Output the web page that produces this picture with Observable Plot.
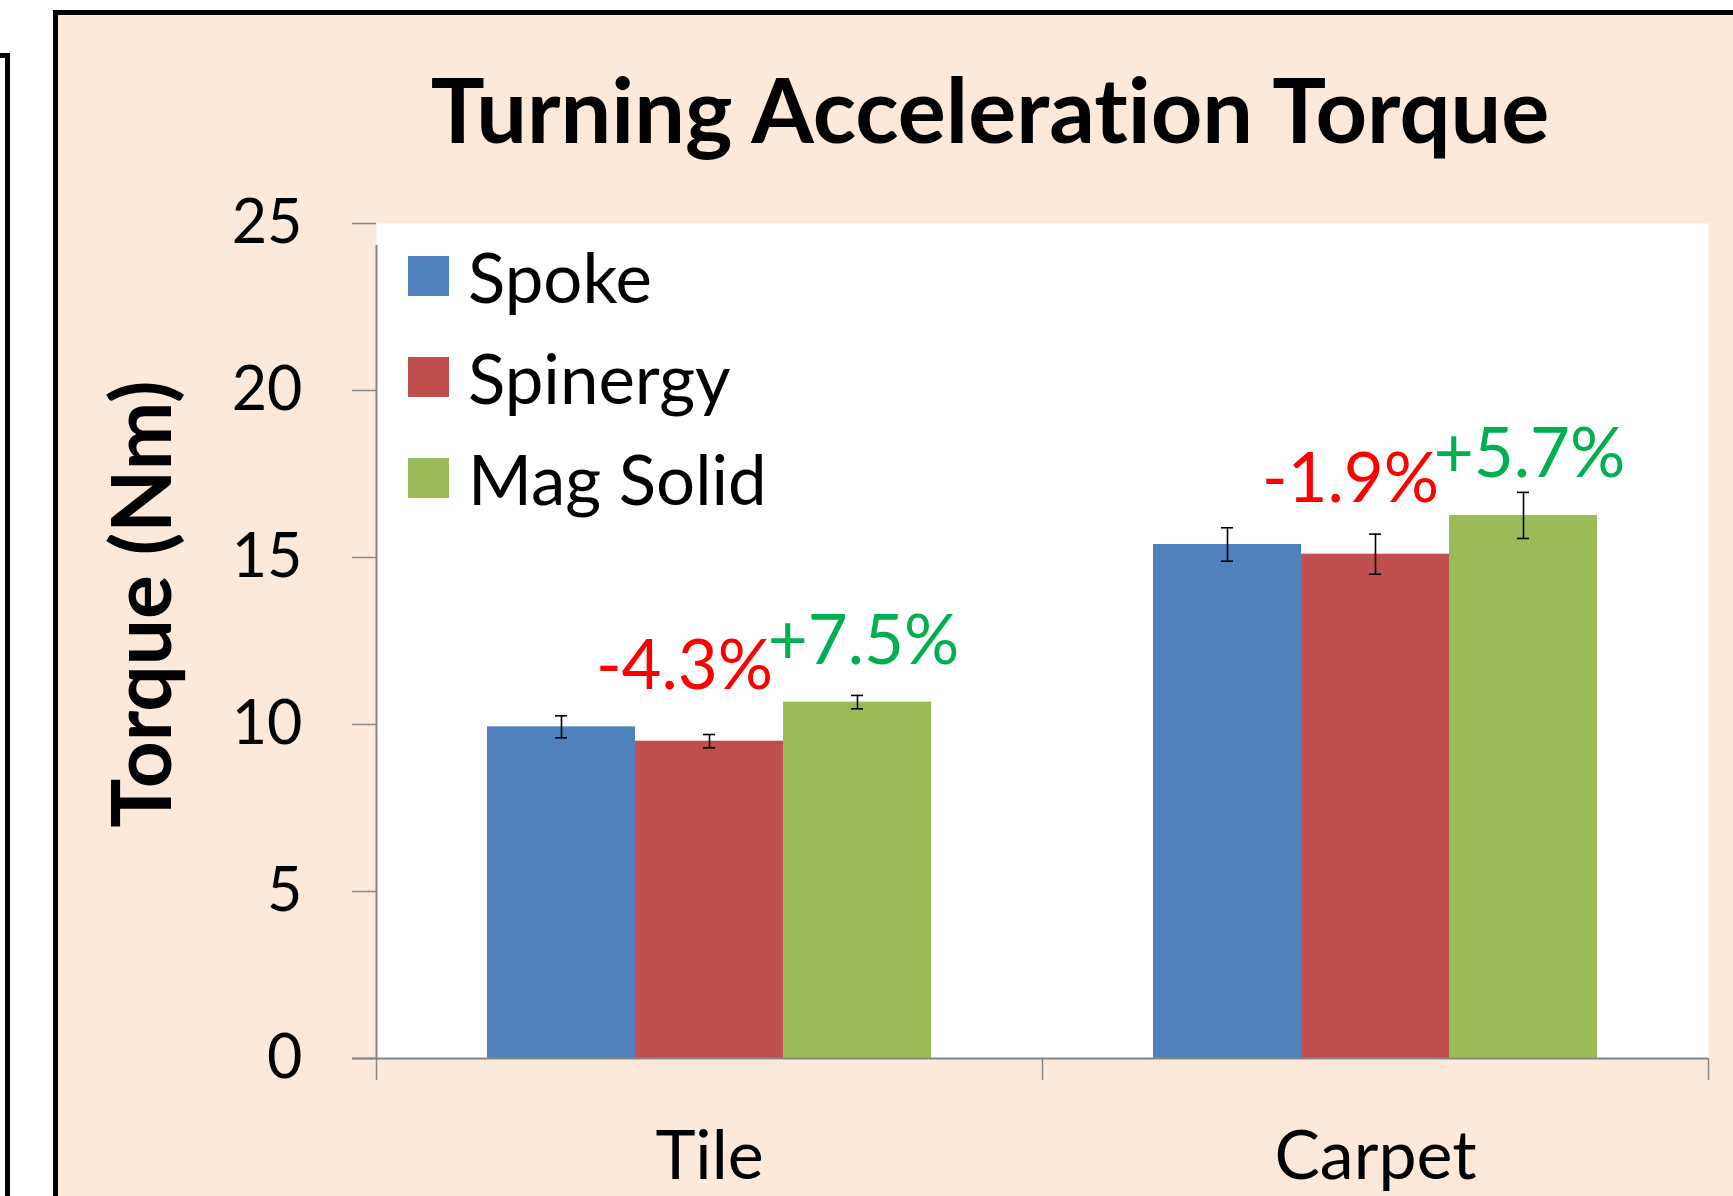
<!DOCTYPE html>
<html><head><meta charset="utf-8">
<script src="https://cdn.jsdelivr.net/npm/d3@7"></script>
<script src="https://cdn.jsdelivr.net/npm/@observablehq/plot@0.6"></script>
<style>
html,body{margin:0;padding:0;background:#fff;width:1733px;height:1196px;overflow:hidden;font-family:Lato,"Open Sans",sans-serif;color:#000;font-variant-ligatures:none;}
#leftpanel{position:absolute;left:-100px;top:53px;width:100px;height:1300px;border:5px solid #000;background:#fff;}
#panel{position:absolute;left:53px;top:10px;width:1800px;height:1300px;border:5px solid #000;background:#FDE9D9;}
#chart{position:absolute;left:0;top:0;}
#chart text{font-variant-ligatures:none;}
#title{position:absolute;left:390px;width:1200px;top:63px;text-align:center;font-weight:700;font-size:90px;line-height:1;white-space:nowrap;font-variant-ligatures:none;}
#ylabel{position:absolute;left:139px;top:604px;transform:translate(-50%,-50%) rotate(-90deg);font-weight:700;font-size:82px;line-height:1;white-space:nowrap;}
.lg{position:absolute;left:408px;height:100px;display:flex;align-items:center;font-size:69px;white-space:nowrap;}
.sw{width:41px;height:40px;margin-right:19px;}
</style></head>
<body>
<div id="leftpanel"></div>
<div id="panel"></div>
<div id="chart"></div>
<div id="title"></div>
<div id="ylabel"></div>
<div id="legend"></div>
<script>
const titleText = "Turning Acceleration Torque";
const yLabel = "Torque (Nm)";
const categories = ["Tile", "Carpet"];
const series = ["Spoke", "Spinergy", "Mag Solid"];
const colors = ["#4F81BD", "#C0504D", "#9BBB59"];
const spoke = [9.93, 15.39];
const spinergy = [9.50, 15.10];
const magSolid = [10.67, 16.26];
const spokeErr = [0.33, 0.50];
const spinergyErr = [0.20, 0.60];
const magSolidErr = [0.20, 0.69];
const spinergyChange = ["-4.3%", "-1.9%"];
const magSolidChange = ["+7.5%", "+5.7%"];
const yTicks = [0, 5, 10, 15, 20, 25];

document.getElementById("title").textContent = titleText;
document.getElementById("ylabel").textContent = yLabel;

const values = [spoke, spinergy, magSolid];
const errs = [spokeErr, spinergyErr, magSolidErr];
const changes = [null, spinergyChange, magSolidChange];

// Excel-like clustered layout: outer gap 1/6, bar width 2/9 of a category step
const rows = [];
categories.forEach((c, ci) => {
  series.forEach((s, si) => {
    const x1 = ci + 1 / 6 + si * 2 / 9;
    const x2 = x1 + 2 / 9;
    const v = values[si][ci], e = errs[si][ci];
    rows.push({category: c, series: s, x1, x2, xc: (x1 + x2) / 2, value: v, lo: v - e, hi: v + e,
      change: changes[si] ? changes[si][ci] : null});
  });
});

const chart = Plot.plot({
  width: 1733, height: 1196,
  marginLeft: 376, marginRight: 25, marginTop: 223, marginBottom: 138,
  style: {background: "transparent", fontFamily: "Lato, 'Open Sans', sans-serif", color: "#000", overflow: "visible"},
  x: {domain: [0, 2]},
  y: {domain: [0, 25]},
  color: {domain: series, range: colors},
  marks: [
    Plot.frame({fill: "white", stroke: null}),
    Plot.rectY(rows, {x1: "x1", x2: "x2", y1: 0, y2: "value", fill: "series"}),
    Plot.ruleX(rows, {x: "xc", y1: "lo", y2: "hi", stroke: "black", strokeWidth: 1.6}),
    Plot.ruleY(rows, {y: "hi", x1: "xc", x2: "xc", insetLeft: -6, insetRight: -6, stroke: "black", strokeWidth: 1.6}),
    Plot.ruleY(rows, {y: "lo", x1: "xc", x2: "xc", insetLeft: -6, insetRight: -6, stroke: "black", strokeWidth: 1.6}),
    Plot.ruleX([0], {y1: 0, y2: 25, stroke: "#868686", strokeWidth: 2, insetBottom: -22}),
    Plot.ruleY([0], {stroke: "#868686", strokeWidth: 2, insetLeft: -24}),
    Plot.axisY({ticks: yTicks, tickSize: 24, tickPadding: 50, fontSize: 61, stroke: "#868686", strokeWidth: 1.5, fill: "#000", label: null, tickFormat: d => String(d)}),
    Plot.axisX({ticks: [0, 1, 2], tickSize: 22, stroke: "#868686", strokeWidth: 1.5, tickFormat: () => "", label: null}),
    Plot.axisX({ticks: [0.5, 1.5], tickSize: 0, tickPadding: 72, fontSize: 68, fill: "#000", label: null, tickFormat: d => categories[Math.floor(d)]}),
    Plot.text(rows.filter(d => d.series === "Spinergy"), {x: "xc", y: "value", text: "change", fill: "#FF0000", fontSize: 69, lineAnchor: "bottom", dx: -25, dy: -52}),
    Plot.text(rows.filter(d => d.series === "Mag Solid"), {x: "xc", y: "value", text: "change", fill: "#00B050", fontSize: 69, lineAnchor: "bottom", dx: 6, dy: -38})
  ]
});
document.getElementById("chart").appendChild(chart);

const legend = document.getElementById("legend");
series.forEach((s, i) => {
  const row = document.createElement("div");
  row.className = "lg";
  row.style.top = (226 + i * 101) + "px";
  const sw = document.createElement("div");
  sw.className = "sw";
  sw.style.background = colors[i];
  const t = document.createElement("span");
  t.textContent = s;
  row.appendChild(sw); row.appendChild(t);
  legend.appendChild(row);
});
</script>
</body></html>
